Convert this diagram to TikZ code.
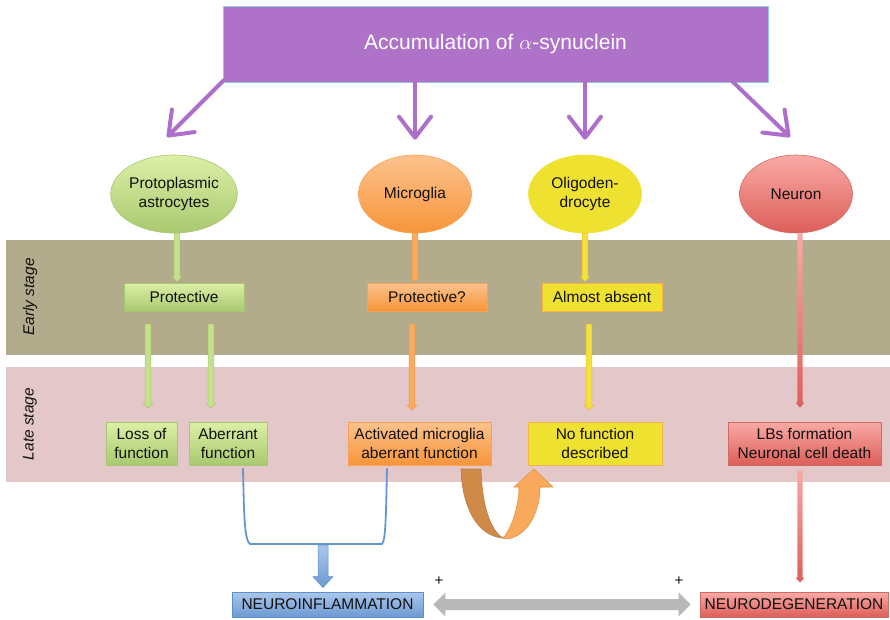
\documentclass[tikz,border=0pt]{standalone}
\usepackage{fontspec}
\setmainfont{Liberation Sans}
\usetikzlibrary{shapes.geometric,arrows.meta,calc}

\definecolor{ink}{HTML}{111111}
\definecolor{purp}{HTML}{AF72C9}
\definecolor{purpline}{HTML}{AD6FCA}
\definecolor{topedge}{HTML}{93C6DC}
\definecolor{earlyband}{HTML}{B2AC8D}
\definecolor{lateband}{HTML}{E3C7C9}
% green family
\definecolor{gtop}{HTML}{DCEFA6}
\definecolor{gbot}{HTML}{A9C96F}
\definecolor{gedge}{HTML}{A8C774}
\definecolor{garrow}{HTML}{C6E08E}
\definecolor{garrowedge}{HTML}{A9CA6C}
% orange family
\definecolor{otop}{HTML}{FCC28D}
\definecolor{obot}{HTML}{F7953A}
\definecolor{oedge}{HTML}{F7A257}
\definecolor{oarrow}{HTML}{F9AB60}
\definecolor{oarrowedge}{HTML}{F6963F}
% yellow family
\definecolor{yfill}{HTML}{EFE12F}
\definecolor{yedge}{HTML}{F4B443}
\definecolor{yarrow}{HTML}{F2E23A}
% red family
\definecolor{rtop}{HTML}{F9AAA5}
\definecolor{rbot}{HTML}{DD5E59}
\definecolor{redge}{HTML}{CF6A64}
% blue family
\definecolor{btop}{HTML}{AAC7EB}
\definecolor{bbot}{HTML}{6C9AD2}
\definecolor{bedge}{HTML}{5E8FCD}
\definecolor{bline}{HTML}{6496D2}
\definecolor{grayarrow}{HTML}{B8B8B8}
\definecolor{udark}{HTML}{D08A48}
\definecolor{udarkedge}{HTML}{BF7A3C}
\definecolor{ulight}{HTML}{F8A95C}
\definecolor{ulightedge}{HTML}{E29244}

\newcommand\labfont{\fontsize{15.5}{18.3}\selectfont}

% vertical block arrow from #1 down to #2 (x taken from #1)
% #3 style, #4 half shaft width, #5 half head width, #6 head length
\newcommand\blkarrow[6]{%
  \path[#3] let \p1=(#1), \p2=(#2) in
    (\x1-#4pt,\y1) -- (\x1+#4pt,\y1) -- (\x1+#4pt,\y2+#6pt) -- (\x1+#5pt,\y2+#6pt)
    -- (\x1,\y2) -- (\x1-#5pt,\y2+#6pt) -- (\x1-#4pt,\y2+#6pt) -- cycle;}

\tikzset{
  cell/.style={ellipse, minimum width=113pt, minimum height=78pt, inner sep=0pt,
    align=center, font=\labfont, text=ink, line width=0.6pt},
  box/.style={rectangle, inner sep=0pt, align=center, font=\labfont, text=ink,
    line width=0.8pt},
  greenshade/.style={top color=gtop, bottom color=gbot, draw=gedge},
  orangeshade/.style={top color=otop, bottom color=obot, draw=oedge},
  yellowflat/.style={fill=yfill, draw=yedge},
  redshade/.style={top color=rtop, bottom color=rbot, draw=redge},
  blueshade/.style={top color=btop, bottom color=bbot, draw=bedge},
  purplearrow/.style={draw=purpline, line width=4pt, line cap=round,
    -{Straight Barb[length=21pt,width=32pt,round]}},
  garr/.style={fill=garrow, draw=garrowedge, line width=0.5pt},
  oarr/.style={fill=oarrow, draw=oarrowedge, line width=0.5pt},
  yarr/.style={fill=yarrow, draw=yedge, line width=0.5pt},
  rarr/.style={top color=rtop, bottom color=rbot, draw=none},
  barr/.style={top color=btop, bottom color=bbot, draw=bedge, line width=0.5pt},
  stagelabel/.style={rotate=90, font=\labfont\itshape, text=ink},
  plus/.style={font=\fontsize{15}{17}\selectfont, text=ink}
}

\begin{document}
\begin{tikzpicture}[x=1pt,y=-1pt]
\useasboundingbox (0,0) rectangle (890,619);

% stage bands
\fill[earlyband] (6,240) rectangle (890,355);
\fill[lateband] (6,367) rectangle (890,482);
\node[stagelabel] (early) at (30,297) {Early stage};
\node[stagelabel] (late) at (30,424) {Late stage};

% headline box
\node[rectangle, fill=purp, draw=topedge, line width=0.8pt,
      minimum width=545pt, minimum height=76pt, inner sep=0pt,
      text=white, font=\fontsize{21}{25}\selectfont]
  (top) at (495.5,44) {Accumulation of $\alpha$-synuclein};

% cell types
\node[cell, greenshade] (ast) at (174,194) {Protoplasmic\\astrocytes};
\node[cell, orangeshade] (mic) at (415,194) {Microglia};
\node[cell, fill=yfill, draw=yfill] (oli) at (585,194) {Oligoden-\\drocyte};
\node[cell, redshade] (neu) at (796,194) {Neuron};

% early stage boxes
\node[box, greenshade, minimum width=120pt, minimum height=28pt] (prot) at (184,297) {Protective};
\node[box, orangeshade, minimum width=120pt, minimum height=28pt] (protq) at (427,297) {Protective?};
\node[box, yellowflat, minimum width=120pt, minimum height=28pt] (almost) at (602,297) {Almost absent};

% late stage boxes
\node[box, greenshade, minimum width=71pt, minimum height=43pt] (loss) at (141.5,443.5) {Loss of\\function};
\node[box, greenshade, minimum width=78pt, minimum height=43pt] (aberr) at (228,443.5) {Aberrant\\function};
\node[box, orangeshade, minimum width=143pt, minimum height=43pt] (activ) at (419.5,443.5) {Activated microglia\\aberrant function};
\node[box, yellowflat, minimum width=134pt, minimum height=43pt] (nofn) at (595,443.5) {No function\\described};
\node[box, redshade, minimum width=153pt, minimum height=43pt] (lbs) at (804.5,443.5) {LBs formation\\Neuronal cell death};

% outcomes
\node[box, blueshade, minimum width=191pt, minimum height=25pt] (ninf) at (327.5,604.5) {NEUROINFLAMMATION};
\node[box, redshade, minimum width=188pt, minimum height=25pt] (ndeg) at (794,604.5) {NEURODEGENERATION};

% purple arrows from the headline
\coordinate (pa1) at (167,137);
\coordinate (pa4) at (790,137);
\draw[purplearrow] ($(top.south west)+(1,-2)$) -- (pa1);
\draw[purplearrow] (top.south -| mic.north) -- ($(mic.north)+(0,-15)$);
\draw[purplearrow] (top.south -| oli.north) -- ($(oli.north)+(0,-15)$);
\draw[purplearrow] (733,82) -- (pa4);

% cell to early stage
\blkarrow{$(ast.south)+(3,0)$}{$(prot.north)+(0,-1)$}{garr}{2.8}{5}{5}
\blkarrow{mic.south}{$(protq.north)+(0,-1)$}{oarr}{2.8}{5}{5}
\blkarrow{oli.south}{$(almost.north)+(0,-1)$}{yarr}{2.8}{5}{5}

% early stage to late stage
\coordinate (g1a) at (148,324);  \coordinate (g1b) at (148,408);
\coordinate (g2a) at (211,324);  \coordinate (g2b) at (211,408);
\coordinate (o2a) at (412,324);  \coordinate (o2b) at (412,410);
\coordinate (y2a) at (589,324);  \coordinate (y2b) at (589,410);
\blkarrow{g1a}{g1b}{garr}{2.8}{5}{5}
\blkarrow{g2a}{g2b}{garr}{2.8}{5}{5}
\blkarrow{o2a}{o2b}{oarr}{2.8}{5}{5}
\blkarrow{y2a}{y2b}{yarr}{2.8}{5}{5}

% neuron column
\blkarrow{$(neu.south)+(4,0)$}{$(lbs.north)+(0,-14)$}{rarr}{2.6}{4.5}{5}
\blkarrow{$(lbs.south)+(-4.5,5)$}{$(ndeg.north)+(6,-9)$}{rarr}{2.6}{4.5}{5}

% bracket joining aberrant glial functions
\draw[bline, line width=1.8pt, line join=round]
  ($(aberr.south)+(15,3)$) .. controls (244,510) and (244,540) .. (250,544)
  -- (382,544) .. controls (386,540) and (386,510) .. ($(activ.south)+(-32.5,3)$);
\coordinate (brk) at (323,545);
\blkarrow{brk}{$(brk |- ninf.north)+(0,-4)$}{barr}{5}{10}{11}

% self-reinforcing U-turn arrow
\path[fill=udark, draw=udarkedge, line width=0.6pt]
  (461,469) .. controls (462,505) and (476,536) .. (503,538)
  .. controls (490,530) and (482,505) .. (481,469) -- cycle;
\path[fill=ulight, draw=ulightedge, line width=0.6pt]
  (503,538) .. controls (512,528) and (519,505) .. (519,487)
  -- (514,487) -- (534,469) -- (553,487) -- (540,487)
  .. controls (540,512) and (527,538) .. (505,539) -- cycle;

% mutual reinforcement arrow
\path[fill=grayarrow] let \p1=($(ninf.east)+(10,0)$), \p2=($(ndeg.west)+(-9,0)$) in
  (\x1,\y1) -- (\x1+12pt,\y1+12pt) -- (\x1+12pt,\y1+5.5pt) -- (\x2-12pt,\y1+5.5pt)
  -- (\x2-12pt,\y1+12pt) -- (\x2,\y1) -- (\x2-12pt,\y1-12pt) -- (\x2-12pt,\y1-5.5pt)
  -- (\x1+12pt,\y1-5.5pt) -- (\x1+12pt,\y1-12pt) -- cycle;
\node[plus] (p1) at (439,581) {+};
\node[plus] (p2) at (679,581) {+};

\end{tikzpicture}
\end{document}
